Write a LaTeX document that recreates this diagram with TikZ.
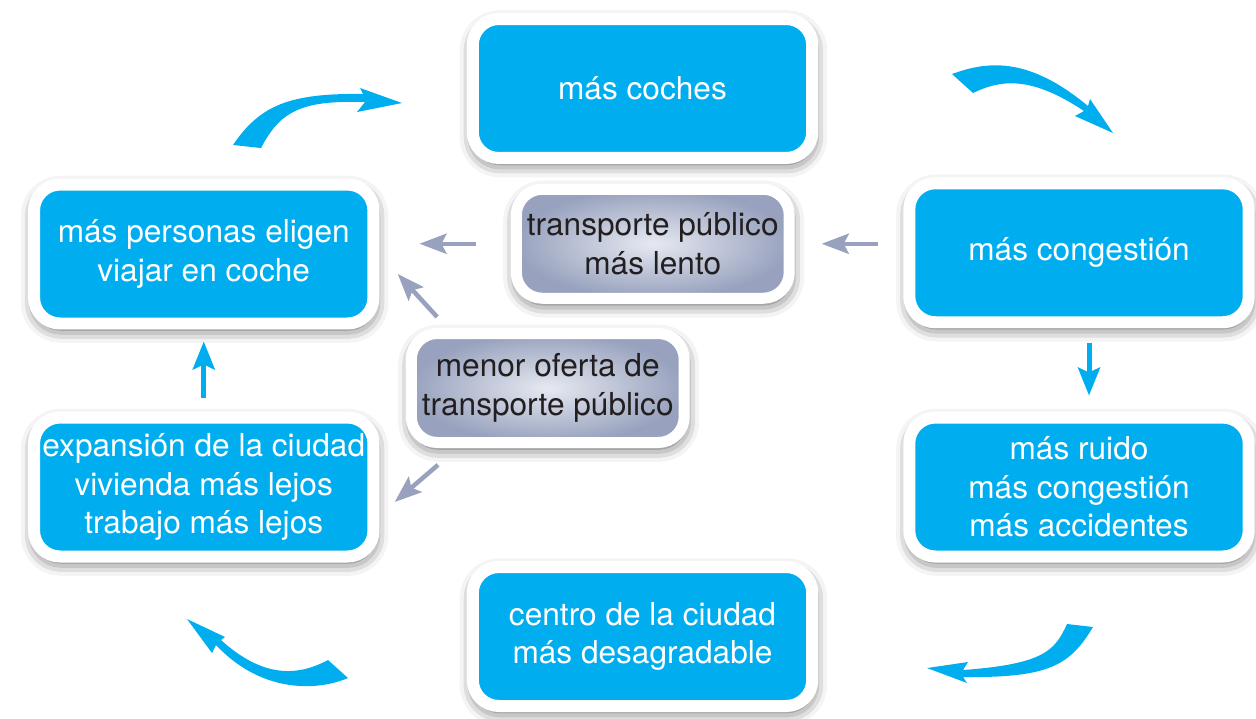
\documentclass[tikz,border=0pt]{standalone}
\usepackage{fontspec}
\setmainfont{TeX Gyre Heros}
\usetikzlibrary{arrows.meta,shadows.blur}

\definecolor{cielo}{RGB}{0,174,239}
\definecolor{grisazul}{RGB}{152,162,190}
\definecolor{grisclaro}{RGB}{230,233,241}
\definecolor{textooscuro}{RGB}{35,31,32}

\tikzset{
  caja/.style={draw=white, line width=0.24cm, fill=cielo, rounded corners=0.52cm,
    minimum width=6.79cm, minimum height=2.78cm, text=white, align=center,
    font=\fontsize{18}{22}\selectfont,
    blur shadow={shadow xshift=0.5pt, shadow yshift=-3pt, shadow blur radius=8pt, shadow opacity=70}},
  cajagris/.style={caja, line width=0.22cm, inner color=grisclaro, outer color=grisazul,
    minimum width=5.46cm, minimum height=2.18cm, text=textooscuro},
  flechaazul/.style={draw=cielo, line width=0.1cm, -{Stealth[length=0.56cm,width=0.44cm,inset=0.1cm]}},
  flechagris/.style={draw=grisazul, line width=0.09cm, -{Stealth[length=0.54cm,width=0.4cm,inset=0.1cm]}},
  curva/.style={fill=cielo}
}

\begin{document}
\begin{tikzpicture}[x=0.02cm,y=-0.02cm]
    \useasboundingbox (0,0) rectangle (1256,718);

    %Flechas curvas del ciclo
    \fill[curva] (233,145) .. controls (260,105) and (290,93) .. (363,94) -- (360,88) -- (402,103) -- (357,112) -- (365,102) .. controls (300,100) and (280,112) .. (261,148) -- cycle;
    \fill[curva] (952,74) .. controls (990,60) and (1030,58) .. (1088,106) -- (1090,99) -- (1113,133) -- (1075,116) -- (1084,111) .. controls (1030,75) and (1000,80) .. (973,93) -- cycle;
    \fill[curva] (1067,624) .. controls (1055,650) and (1045,664) .. (963,670) -- (968,662) -- (927,668) -- (967,683) -- (963,677) .. controls (1050,678) and (1070,665) .. (1093,627) -- cycle;
    \fill[curva] (328,660) .. controls (300,675) and (265,680) .. (221,640) -- (225,637) -- (187,619) -- (212,653) -- (216,645) .. controls (260,692) and (315,692) .. (348,678) -- cycle;

    %Cajas
    \node[caja] (coches) at (642.5,88.5) {más coches};
    \node[cajagris] (lento) at (652.75,243.75) {transporte público\\más lento};
    \node[caja] (personas) at (203.75,254) {más personas eligen\\viajar en coche};
    \node[caja] (congestion) at (1079,252.75) {más congestión};
    \node[cajagris] (menor) at (547.75,388) {menor oferta de\\transporte público};
    \node[caja] (expansion) at (203.75,487) {expansión de la ciudad\\vivienda más lejos\\trabajo más lejos};
    \node[caja] (ruido) at (1079,487) {más ruido\\más congestión\\más accidentes};
    \node[caja] (centro) at (642.5,636.5) {centro de la ciudad\\más desagradable};

    %Flechas rectas
    \draw[flechaazul, shorten <=0.28cm, shorten >=0.24cm] (expansion.north) -- (personas.south);
    \draw[flechaazul, shorten <=0.3cm, shorten >=0.32cm] ([xshift=0.2cm]congestion.south) -- ([xshift=0.2cm]ruido.north);
    \draw[flechagris, shorten <=0.7cm, shorten >=0.8cm] (lento.west) -- (lento.west -| personas.east);
    \draw[flechagris, shorten <=0.5cm, shorten >=0.54cm] (lento.east -| congestion.west) -- (lento.east);
    \draw[flechagris, shorten <=0.3cm, shorten >=0.54cm] ([xshift=0.83cm]menor.north west) -- (personas.east);
    \draw[flechagris, shorten <=0.52cm, shorten >=0.4cm] ([xshift=1.04cm]menor.south west) -- ([yshift=-0.56cm]expansion.east);

\end{tikzpicture}
\end{document}
